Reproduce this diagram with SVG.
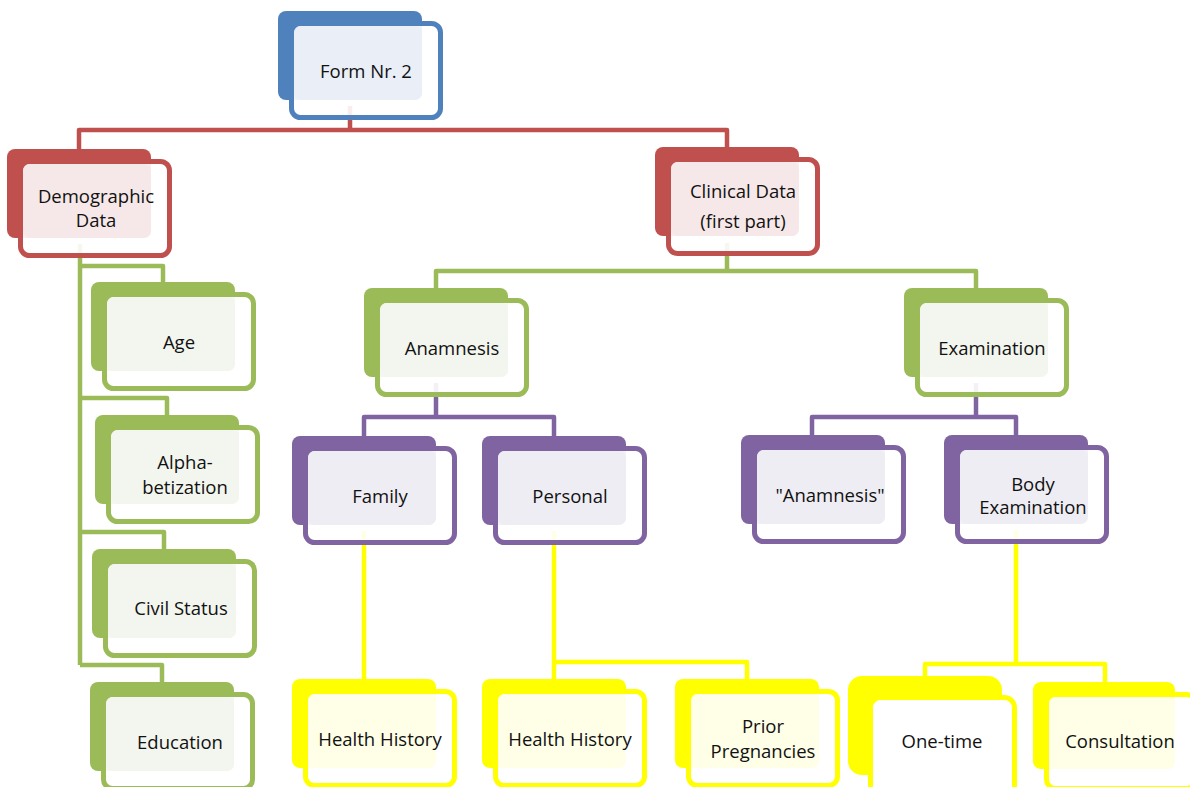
<svg xmlns="http://www.w3.org/2000/svg" width="1190" height="787" viewBox="0 0 1190 787">
  <style>
    text { font-family: "Open Sans", "Liberation Sans", sans-serif; font-size: 18.5px; fill: #111; text-anchor: middle; }
    .front { fill: #fff; fill-opacity: 0.9; stroke-width: 5; }
    .solid { fill-opacity: 1; }
    .link { fill: none; stroke-width: 4.5; stroke-linejoin: round; stroke-linecap: butt; }
    .blue .back { fill: #4F81BD; } .blue .front { stroke: #4F81BD; } .blue .tint { fill: #E9EEF7; }
    .red .back { fill: #C0504D; } .red .front { stroke: #C0504D; } .red .tint { fill: #F6E8E8; }
    .green .back { fill: #9BBB59; } .green .front { stroke: #9BBB59; } .green .tint { fill: #F3F6EE; }
    .purple .back { fill: #8064A2; } .purple .front { stroke: #8064A2; } .purple .tint { fill: #EFEDF4; }
    .yellow .back { fill: #FFFF00; } .yellow .front { stroke: #FFFF00; } .yellow .tint { fill: #FFFFE8; }
  </style>

  <!-- connectors -->
  <g id="connectors">
    <path class="link" stroke="#C0504D" d="M350 106 V130 M79 149 V130 H727 V147"/>
    <path class="link" stroke="#9BBB59" d="M80 244 V665 M80 266 H163 V282 M80 398 H167 V415 M80 532 H164 V549 M80 665 H162 V682"/>
    <path class="link" stroke="#9BBB59" d="M727 243 V271 M436 288 V271 H976 V288"/>
    <path class="link" stroke="#8064A2" d="M436 383 V417 M364 436 V417 H554 V436"/>
    <path class="link" stroke="#8064A2" d="M976 383 V417 M812 435 V417 H1016 V435"/>
    <path class="link" stroke="#FFFF00" d="M364 531 V679"/>
    <path class="link" stroke="#FFFF00" d="M554 531 V679 M554 662 H747 V679"/>
    <path class="link" stroke="#FFFF00" d="M1016 530 V664 M925 676 V664 H1105 V682"/>
  </g>

  <!-- level 0 -->
  <g id="node-form" class="blue">
    <rect class="back" x="278" y="11" width="144" height="89" rx="8"/>
    <rect class="front" x="291.5" y="23.5" width="149" height="94" rx="9"/>
    <rect class="tint" x="294" y="26" width="128" height="74" rx="7"/>
    <text x="366" y="78">Form Nr. 2</text>
  </g>

  <!-- level 1 -->
  <g id="node-demographic" class="red">
    <rect class="back" x="7" y="149" width="144" height="89" rx="8"/>
    <rect class="front" x="20.5" y="161.5" width="149" height="94" rx="9"/>
    <rect class="tint" x="23" y="164" width="128" height="74" rx="7"/>
    <text x="96" y="203">Demographic</text>
    <text x="96" y="227">Data</text>
  </g>
  <g id="node-clinical" class="red">
    <rect class="back" x="655" y="147" width="144" height="89" rx="8"/>
    <rect class="front" x="668.5" y="159.5" width="149" height="94" rx="9"/>
    <rect class="tint" x="671" y="162" width="128" height="74" rx="7"/>
    <text x="743" y="198">Clinical Data</text>
    <text x="743" y="228">(first part)</text>
  </g>

  <!-- demographic items -->
  <g id="node-age" class="green">
    <rect class="back" x="91" y="282" width="144" height="89" rx="8"/>
    <rect class="front" x="104.5" y="294.5" width="149" height="94" rx="9"/>
    <rect class="tint" x="107" y="297" width="128" height="74" rx="7"/>
    <text x="179" y="349">Age</text>
  </g>
  <g id="node-alpha" class="green">
    <rect class="back" x="95" y="415" width="144" height="89" rx="8"/>
    <rect class="front" x="108.5" y="427.5" width="149" height="94" rx="9"/>
    <rect class="tint" x="111" y="430" width="128" height="74" rx="7"/>
    <text x="185" y="469">Alpha-</text>
    <text x="185" y="494">betization</text>
  </g>
  <g id="node-civil" class="green">
    <rect class="back" x="92" y="549" width="144" height="89" rx="8"/>
    <rect class="front" x="105.5" y="561.5" width="149" height="94" rx="9"/>
    <rect class="tint" x="108" y="564" width="128" height="74" rx="7"/>
    <text x="181" y="615">Civil Status</text>
  </g>
  <g id="node-education" class="green">
    <rect class="back" x="90" y="682" width="144" height="89" rx="8"/>
    <rect class="front" x="103.5" y="694.5" width="149" height="94" rx="9"/>
    <rect class="tint" x="106" y="697" width="128" height="74" rx="7"/>
    <text x="180" y="749">Education</text>
  </g>

  <!-- clinical branches -->
  <g id="node-anamnesis" class="green">
    <rect class="back" x="364" y="288" width="144" height="89" rx="8"/>
    <rect class="front" x="377.5" y="300.5" width="149" height="94" rx="9"/>
    <rect class="tint" x="380" y="303" width="128" height="74" rx="7"/>
    <text x="452" y="355">Anamnesis</text>
  </g>
  <g id="node-examination" class="green">
    <rect class="back" x="904" y="288" width="144" height="89" rx="8"/>
    <rect class="front" x="917.5" y="300.5" width="149" height="94" rx="9"/>
    <rect class="tint" x="920" y="303" width="128" height="74" rx="7"/>
    <text x="992" y="355">Examination</text>
  </g>

  <g id="node-family" class="purple">
    <rect class="back" x="292" y="436" width="144" height="89" rx="8"/>
    <rect class="front" x="305.5" y="448.5" width="149" height="94" rx="9"/>
    <rect class="tint" x="308" y="451" width="128" height="74" rx="7"/>
    <text x="380" y="503">Family</text>
  </g>
  <g id="node-personal" class="purple">
    <rect class="back" x="482" y="436" width="144" height="89" rx="8"/>
    <rect class="front" x="495.5" y="448.5" width="149" height="94" rx="9"/>
    <rect class="tint" x="498" y="451" width="128" height="74" rx="7"/>
    <text x="570" y="503">Personal</text>
  </g>
  <g id="node-exam-anamnesis" class="purple">
    <rect class="back" x="741" y="435" width="144" height="89" rx="8"/>
    <rect class="front" x="754.5" y="447.5" width="149" height="94" rx="9"/>
    <rect class="tint" x="757" y="450" width="128" height="74" rx="7"/>
    <text x="830" y="502">"Anamnesis"</text>
  </g>
  <g id="node-body" class="purple">
    <rect class="back" x="944" y="435" width="144" height="89" rx="8"/>
    <rect class="front" x="957.5" y="447.5" width="149" height="94" rx="9"/>
    <rect class="tint" x="960" y="450" width="128" height="74" rx="7"/>
    <text x="1033" y="491">Body</text>
    <text x="1033" y="514">Examination</text>
  </g>

  <!-- leaves -->
  <g id="node-health-family" class="yellow">
    <rect class="back" x="292" y="679" width="144" height="89" rx="8"/>
    <rect class="front" x="305.5" y="691.5" width="149" height="94" rx="9"/>
    <rect class="tint" x="308" y="694" width="128" height="74" rx="7"/>
    <text x="380" y="746">Health History</text>
  </g>
  <g id="node-health-personal" class="yellow">
    <rect class="back" x="482" y="679" width="144" height="89" rx="8"/>
    <rect class="front" x="495.5" y="691.5" width="149" height="94" rx="9"/>
    <rect class="tint" x="498" y="694" width="128" height="74" rx="7"/>
    <text x="570" y="746">Health History</text>
  </g>
  <g id="node-pregnancies" class="yellow">
    <rect class="back" x="675" y="679" width="144" height="89" rx="8"/>
    <rect class="front" x="688.5" y="691.5" width="149" height="94" rx="9"/>
    <rect class="tint" x="691" y="694" width="128" height="74" rx="7"/>
    <text x="763" y="733">Prior</text>
    <text x="763" y="758">Pregnancies</text>
  </g>
  <g id="node-onetime" class="yellow">
    <rect class="back" x="848" y="676" width="154" height="99" rx="14"/>
    <rect class="front solid" x="870.5" y="697.5" width="144" height="100" rx="10"/>
    <text x="942" y="748">One-time</text>
  </g>
  <g id="node-consultation" class="yellow">
    <rect class="back" x="1033" y="682" width="142" height="87" rx="8"/>
    <rect class="front" x="1046.5" y="694.5" width="149" height="94" rx="9"/>
    <rect class="tint" x="1049" y="697" width="126" height="72" rx="7"/>
    <text x="1120" y="748">Consultation</text>
  </g>
</svg>
